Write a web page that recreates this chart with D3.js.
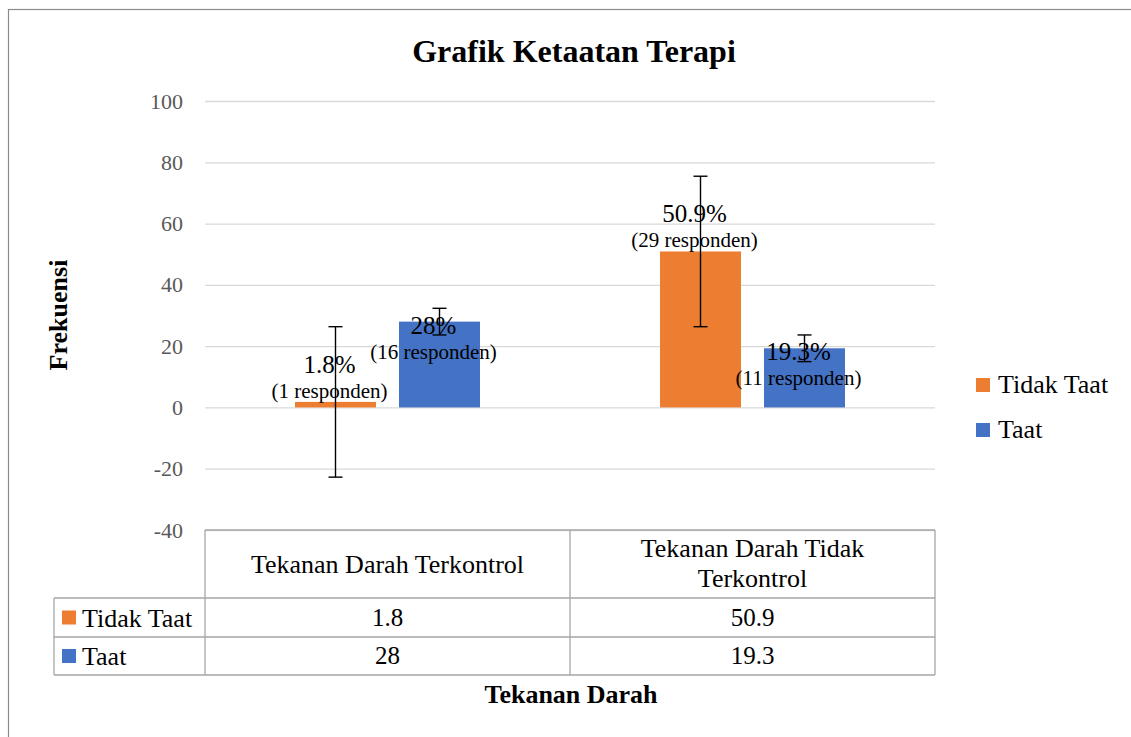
<!DOCTYPE html>
<html>
<head>
<meta charset="utf-8">
<script src="https://cdn.jsdelivr.net/npm/d3@7"></script>
<style>
  body { margin: 0; background: #fff; }
  svg { display: block; font-family: "Liberation Serif", "Times New Roman", serif; }
</style>
</head>
<body>
<svg id="chart" width="1131" height="737"></svg>
<script>
// data
const categories = ["Tekanan Darah Terkontrol", "Tekanan Darah Tidak Terkontrol"];
const headerLines = [["Tekanan Darah Terkontrol"], ["Tekanan Darah Tidak", "Terkontrol"]];
const seriesNames = ["Tidak Taat", "Taat"];
const tidakTaat = [1.8, 50.9];
const taat = [28, 19.3];
const respondenTidakTaat = [1, 29];
const respondenTaat = [16, 11];
const errTidakTaat = 24.55;   // standard error shown by the error bars
const errTaat = 4.35;
const yTicks = [-40, -20, 0, 20, 40, 60, 80, 100];
const colors = ["#ED7D31", "#4472C4"];

const series = [
    { name: seriesNames[0], values: tidakTaat, resp: respondenTidakTaat, err: errTidakTaat, color: colors[0] },
    { name: seriesNames[1], values: taat, resp: respondenTaat, err: errTaat, color: colors[1] }
];

const svg = d3.select("#chart");
const plotLeft = 205, plotRight = 935, plotTop = 101, plotBottom = 530;

// chart frame
svg.append("rect")
    .attr("x", 8.5).attr("y", 9.5)
    .attr("width", 1200).attr("height", 800)
    .attr("fill", "none").attr("stroke", "#8a8a8a").attr("stroke-width", 1.2);

svg.append("text")
    .attr("x", 574).attr("y", 62)
    .attr("text-anchor", "middle")
    .attr("font-size", 32).attr("font-weight", "bold")
    .text("Grafik Ketaatan Terapi");

const y = d3.scaleLinear().domain([-40, 100]).range([plotBottom, plotTop]);
const x0 = d3.scaleBand().domain(categories).range([plotLeft, plotRight]);
const x1 = d3.scaleBand().domain(seriesNames)
    .range([90, 275]).paddingInner(23 / 104).paddingOuter(0);

// y axis with gridlines
const yAxis = svg.append("g")
    .attr("transform", `translate(${plotLeft},0)`)
    .call(d3.axisLeft(y).tickValues(yTicks).tickSize(-(plotRight - plotLeft)).tickPadding(22).tickFormat(d => String(d)));
yAxis.select(".domain").remove();
yAxis.selectAll("line").attr("stroke", "#d9d9d9").attr("stroke-width", 1.3);
yAxis.selectAll("text")
    .attr("fill", "#595959")
    .attr("font-size", 22)
    .attr("font-family", "Liberation Serif, Times New Roman, serif");

svg.append("text")
    .attr("transform", "translate(67,315) rotate(-90)")
    .attr("text-anchor", "middle")
    .attr("font-size", 26).attr("font-weight", "bold")
    .text("Frekuensi");

// bars
series.forEach(s => {
    const g = svg.append("g");
    categories.forEach((c, i) => {
        const v = s.values[i];
        const bx = x0(c) + x1(s.name);
        g.append("rect")
            .attr("x", bx).attr("y", y(Math.max(v, 0)))
            .attr("width", x1.bandwidth())
            .attr("height", Math.abs(y(v) - y(0)))
            .attr("fill", s.color);
    });
});

// error bars
series.forEach(s => {
    categories.forEach((c, i) => {
        const v = s.values[i];
        const cx = x0(c) + x1(s.name) + x1.bandwidth() / 2;
        const g = svg.append("g").attr("stroke", "#000").attr("stroke-width", 1.4);
        g.append("line").attr("x1", cx).attr("x2", cx).attr("y1", y(v + s.err)).attr("y2", y(v - s.err));
        g.append("line").attr("x1", cx - 7).attr("x2", cx + 7).attr("y1", y(v + s.err)).attr("y2", y(v + s.err));
        g.append("line").attr("x1", cx - 7).attr("x2", cx + 7).attr("y1", y(v - s.err)).attr("y2", y(v - s.err));
    });
});

// data labels
series.forEach((s, si) => {
    categories.forEach((c, i) => {
        const v = s.values[i];
        const cx = x0(c) + x1(s.name) + x1.bandwidth() / 2 - 6;
        const t = y(v);
        const py = si === 0 ? t - 29 : t + 12;
        svg.append("text")
            .attr("x", cx).attr("y", py)
            .attr("text-anchor", "middle").attr("font-size", 25)
            .text(v + "%");
        svg.append("text")
            .attr("x", cx).attr("y", py + 25)
            .attr("text-anchor", "middle").attr("font-size", 21)
            .text(`(${s.resp[i]} responden)`);
    });
});

// data table under the plot
const tLeft = 54;
const rows = [plotBottom, 598, 637, 675];
const tbl = svg.append("g").attr("stroke", "#a6a6a6").attr("stroke-width", 1.3);
tbl.append("line").attr("x1", plotLeft).attr("x2", plotRight).attr("y1", rows[0]).attr("y2", rows[0]);
rows.slice(1).forEach(r => {
    tbl.append("line").attr("x1", tLeft).attr("x2", plotRight).attr("y1", r).attr("y2", r);
});
[plotLeft, x0(categories[1]), plotRight].forEach(xv => {
    tbl.append("line").attr("x1", xv).attr("x2", xv).attr("y1", rows[0]).attr("y2", rows[3]);
});
tbl.append("line").attr("x1", tLeft).attr("x2", tLeft).attr("y1", rows[1]).attr("y2", rows[3]);

categories.forEach((c, i) => {
    const cx = x0(c) + x0.bandwidth() / 2;
    const lines = headerLines[i];
    const base = lines.length === 1 ? 573 : 557;
    lines.forEach((ln, j) => {
        svg.append("text")
            .attr("x", cx).attr("y", base + j * 30)
            .attr("text-anchor", "middle").attr("font-size", 26)
            .text(ln);
    });
});

series.forEach((s, si) => {
    const rowMid = (rows[si + 1] + rows[si + 2]) / 2;
    svg.append("rect")
        .attr("x", 62).attr("y", rowMid - 7)
        .attr("width", 14).attr("height", 14)
        .attr("fill", s.color);
    svg.append("text")
        .attr("x", 82).attr("y", rowMid + 9)
        .attr("font-size", 26)
        .text(s.name);
    categories.forEach((c, i) => {
        svg.append("text")
            .attr("x", x0(c) + x0.bandwidth() / 2).attr("y", rowMid + 8)
            .attr("text-anchor", "middle").attr("font-size", 25)
            .text(s.values[i]);
    });
});

svg.append("text")
    .attr("x", 571).attr("y", 703)
    .attr("text-anchor", "middle")
    .attr("font-size", 26).attr("font-weight", "bold")
    .text("Tekanan Darah");

// legend
const legend = svg.append("g").attr("transform", "translate(976,378)");
series.forEach((s, i) => {
    legend.append("rect")
        .attr("x", 0).attr("y", i * 45)
        .attr("width", 14).attr("height", 14)
        .attr("fill", s.color);
    legend.append("text")
        .attr("x", 22).attr("y", i * 45 + 15)
        .attr("font-size", 26)
        .text(s.name);
});
</script>
</body>
</html>
